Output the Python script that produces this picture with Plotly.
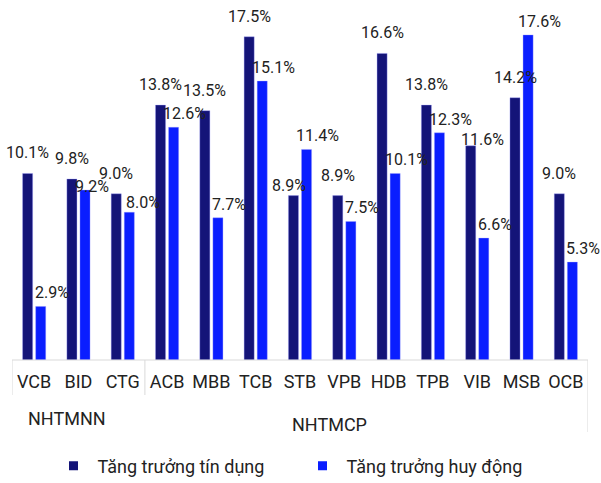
import plotly.graph_objects as go

banks = ["VCB", "BID", "CTG", "ACB", "MBB", "TCB", "STB", "VPB", "HDB", "TPB", "VIB", "MSB", "OCB"]
groups = ["NHTMNN", "NHTMCP"]
group_sizes = [3, 10]
credit_growth = [10.1, 9.8, 9.0, 13.8, 13.5, 17.5, 8.9, 8.9, 16.6, 13.8, 11.6, 14.2, 9.0]
deposit_growth = [2.9, 9.2, 8.0, 12.6, 7.7, 15.1, 11.4, 7.5, 10.1, 12.3, 6.6, 17.6, 5.3]
series_names = ["Tăng trưởng tín dụng", "Tăng trưởng huy động"]

NAVY = "#141478"
BLUE = "#0a1eff"
TXT = "#222222"
FONT = "Roboto"

# label nudges (pixels) mirroring labels that were moved by hand in the original
label_nudge = {(0, "STB"): (-4, -10), (0, "VIB"): (12, -14), (1, "BID"): (-4, -10), (1, "CTG"): (3, -4)}

W, H = 601, 483
ML, MR, MT, MB = 12, 13, 0, 123
BARGAP, GROUPGAP = 0.41, 0.23
plot_w = W - ML - MR
plot_h = H - MT - MB
cat_w = plot_w / len(banks)
slot = cat_w * (1 - BARGAP) / 2
shift = slot / 2

fig = go.Figure()
fig.add_trace(go.Bar(x=banks, y=credit_growth, name=series_names[0],
                     marker=dict(color=NAVY, line=dict(color="rgba(160,160,255,0.6)", width=0.6)),
                     showlegend=False))
fig.add_trace(go.Bar(x=banks, y=deposit_growth, name=series_names[1],
                     marker=dict(color=BLUE, line=dict(color="rgba(160,160,255,0.6)", width=0.6)),
                     showlegend=False))
# legend entries with square markers
for nm, col in zip(series_names, [NAVY, BLUE]):
    fig.add_trace(go.Scatter(x=[None], y=[None], mode="markers", name=nm,
                             marker=dict(symbol="square", size=9, color=col)))

annotations = []
for si, (vals, dx, dy) in enumerate([(credit_growth, -shift, 9), (deposit_growth, shift + 11, 2)]):
    for b, v in zip(banks, vals):
        ndx, ndy = label_nudge.get((si, b), (0, 0))
        annotations.append(dict(x=b, y=v, xref="x", yref="y", text=f"{v:.1f}%",
                                showarrow=False, xshift=dx + ndx, yshift=dy + ndy,
                                yanchor="bottom", font=dict(family=FONT, size=16, color=TXT)))

# group labels
annotations.append(dict(x=(26 - ML) / plot_w, y=(plot_h - 418) / plot_h, xref="paper", yref="paper",
                        text=groups[0], showarrow=False, xanchor="left", yanchor="middle",
                        font=dict(family=FONT, size=18, color=TXT)))
annotations.append(dict(x=(290 - ML) / plot_w, y=(plot_h - 424) / plot_h, xref="paper", yref="paper",
                        text=groups[1], showarrow=False, xanchor="left", yanchor="middle",
                        font=dict(family=FONT, size=18, color=TXT)))

shapes = []
line_style = dict(color="#d9d9d9", width=1)
bounds = [-0.5, group_sizes[0] - 0.5, sum(group_sizes) - 0.5]
depths = [-35 / plot_h, -35 / plot_h, -72 / plot_h]
for xb, d in zip(bounds, depths):
    shapes.append(dict(type="line", xref="x", yref="paper", x0=xb, x1=xb, y0=0, y1=d, line=line_style))
shapes.append(dict(type="line", xref="x", yref="paper", x0=-0.5, x1=sum(group_sizes) - 0.5, y0=0, y1=0,
                   line=line_style))

fig.update_layout(
    width=W, height=H,
    margin=dict(l=ML, r=MR, t=MT, b=MB, autoexpand=False),
    paper_bgcolor="white", plot_bgcolor="white",
    barmode="group", bargap=BARGAP, bargroupgap=GROUPGAP,
    font=dict(family=FONT, color=TXT),
    xaxis=dict(showgrid=False, showline=False, ticks="", tickfont=dict(size=18, color=TXT),
               ticklabelstandoff=9,
               range=[-0.5, len(banks) - 0.5], fixedrange=True),
    yaxis=dict(visible=False, range=[0, plot_h / 18.47], fixedrange=True),
    legend=dict(orientation="h", x=(49.5 - ML) / plot_w, xanchor="left",
                y=(plot_h - 466) / plot_h, yanchor="middle",
                font=dict(size=18, color=TXT), entrywidth=196, itemwidth=38),
    annotations=annotations,
    shapes=shapes,
)

fig.write_html("out.html", config={"displayModeBar": False},
               post_script="document.body.style.margin='0px';document.body.style.overflow='hidden';")
